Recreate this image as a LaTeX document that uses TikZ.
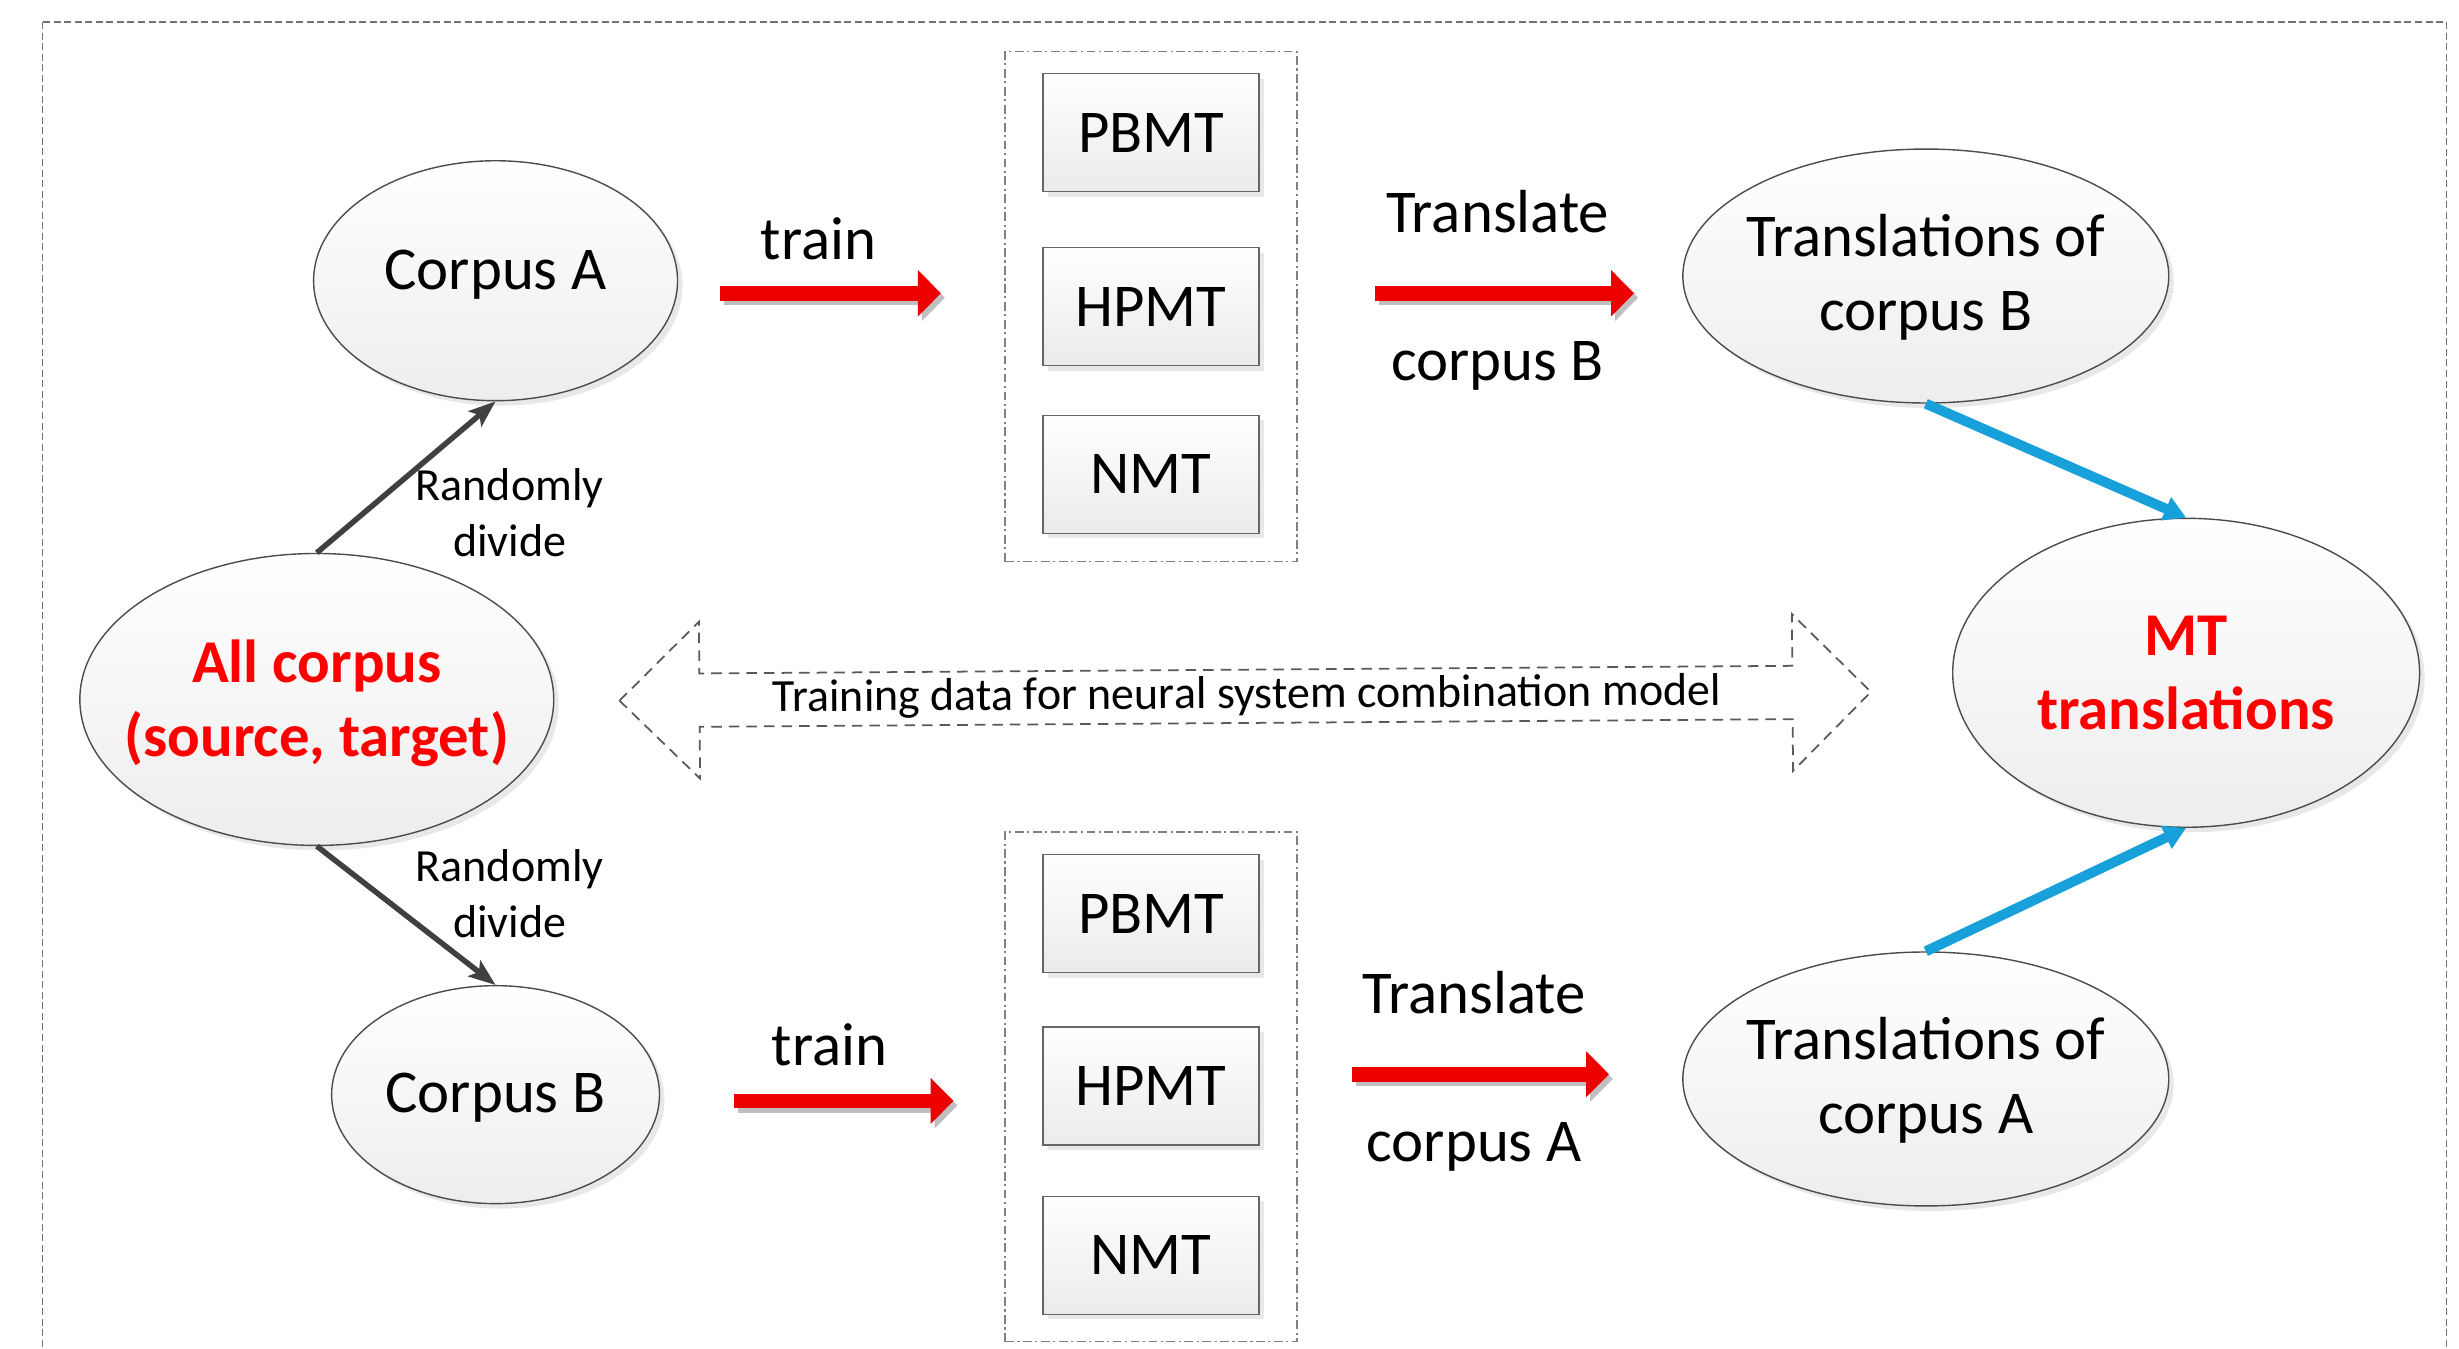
\documentclass[tikz,border=0pt]{standalone}
\usepackage{fontspec}
\setmainfont{Carlito}
\usetikzlibrary{shapes.geometric,shadows,arrows.meta}

\definecolor{arrowred}{RGB}{236,0,0}
\definecolor{arrowblue}{RGB}{24,160,218}
\definecolor{darkarrow}{RGB}{64,64,64}

\newcommand{\diagbig}{\fontsize{17.3}{21}\selectfont}
\newcommand{\diagsmall}{\fontsize{13.1}{15.8}\selectfont}

\tikzset{
    frame/.style={draw=black!55, line width=0.4pt, dash pattern=on 2pt off 1pt},
    corpus/.style={ellipse, draw=black!70, line width=0.4pt, inner sep=0pt,
        top color=white, bottom color=black!7,
        drop shadow={opacity=0.18, shadow xshift=0.05cm, shadow yshift=-0.05cm}},
    sysbox/.style={rectangle, draw=black!60, line width=0.5pt, inner sep=0pt,
        top color=white, bottom color=black!8,
        minimum width=2.16cm, minimum height=1.18cm, font=\diagbig,
        drop shadow={opacity=0.18, shadow xshift=0.05cm, shadow yshift=-0.05cm}},
    group/.style={rectangle, draw=black!50, line width=0.4pt,
        dash pattern=on 2.5pt off 1pt on 0.6pt off 1pt,
        minimum width=2.92cm, minimum height=5.1cm},
    bigtxt/.style={font=\diagbig, align=center, inner sep=0pt},
    redtxt/.style={font=\diagbig\bfseries, text=red, align=center, inner sep=0pt},
    smalltxt/.style={font=\diagsmall, align=center, inner sep=0pt},
    redarrow/.style={line width=0.145cm, arrowred, -{Triangle[length=0.23cm, width=0.45cm]}},
    redshadow/.style={line width=0.145cm, black!25, -{Triangle[length=0.23cm, width=0.45cm]}},
    divarrow/.style={line width=0.055cm, darkarrow, -{Stealth[length=0.27cm, width=0.2cm, inset=0.06cm]}},
    combarrow/.style={line width=0.1cm, arrowblue, -{Triangle[length=0.22cm, width=0.24cm]}},
    hollow/.style={draw=black!65, line width=0.5pt, dash pattern=on 3pt off 2pt}
}

\begin{document}
\begin{tikzpicture}[x=0.01568cm, y=-0.01568cm]
\useasboundingbox (0,0) rectangle (1568,860);

% outer frame
\draw[frame] (27,14) rectangle (1560,900);

% corpora
\node[corpus, minimum width=4.74cm, minimum height=2.92cm] (allc) at (202,446) {};
\node[redtxt] (allc-t) at (202,448.5) {All corpus\\(source, target)};
\node[corpus, minimum width=3.64cm, minimum height=2.40cm] (corpA) at (316,179) {};
\node[bigtxt] (corpA-t) at (316,175) {Corpus A};
\node[corpus, minimum width=3.28cm, minimum height=2.18cm] (corpB) at (316,698) {};
\node[bigtxt] (corpB-t) at (316,700) {Corpus B};

% translations
\node[corpus, minimum width=4.86cm, minimum height=2.54cm] (transB) at (1228,176) {};
\node[bigtxt] (transB-t) at (1228,177) {Translations of\\corpus B};
\node[corpus, minimum width=4.86cm, minimum height=2.54cm] (transA) at (1228,688) {};
\node[bigtxt] (transA-t) at (1228,689) {Translations of\\corpus A};
\node[corpus, minimum width=4.67cm, minimum height=3.09cm] (mt) at (1394,429) {};
\node[redtxt] (mt-t) at (mt) {MT\\translations};

% systems trained on corpus A
\node[group] (groupA) at (734,195.5) {};
\node[sysbox] (pbmtA) at (734,84.5) {PBMT};
\node[sysbox] (hpmtA) at (734,195.5) {HPMT};
\node[sysbox] (nmtA) at (734,302.5) {NMT};

% systems trained on corpus B
\node[group] (groupB) at (734,693) {};
\node[sysbox] (pbmtB) at (734,582.5) {PBMT};
\node[sysbox] (hpmtB) at (734,692.5) {HPMT};
\node[sysbox] (nmtB) at (734,800.5) {NMT};

% random split
\draw[divarrow] (allc.north) -- (corpA.south);
\draw[divarrow] (allc.south) -- (corpB.north);
\node[smalltxt] (divA) at (325,327) {Randomly\\divide};
\node[smalltxt] (divB) at (325,570) {Randomly\\divide};

% train / translate
\coordinate (trainA-s) at (459,187);
\coordinate (trainA-e) at (600,187);
\coordinate (transA-s) at (877,187);
\coordinate (transA-e) at (1042,187);
\coordinate (trainB-s) at (468,702);
\coordinate (trainB-e) at (608,702);
\coordinate (transB-s) at (862,685);
\coordinate (transB-e) at (1026,685);
\foreach \s/\e in {trainA-s/trainA-e, transA-s/transA-e, trainB-s/trainB-e, transB-s/transB-e} {
    \draw[redshadow] ([shift={(0.04cm,-0.045cm)}]\s) -- ([shift={(0.04cm,-0.045cm)}]\e);
    \draw[redarrow] (\s) -- (\e);
}
\node[bigtxt] (trainA-l) at (522,152) {train};
\node[bigtxt] (translA-l) at (955,135) {Translate};
\node[bigtxt] (corpusB-l) at (955,233) {corpus B};
\node[bigtxt] (trainB-l) at (529,666) {train};
\node[bigtxt] (translB-l) at (940,633) {Translate};
\node[bigtxt] (corpusA-l) at (940,731) {corpus A};

% combination
\draw[combarrow] (transB.south) -- (mt.north);
\draw[combarrow] (transA.north) -- (mt.south);

% training data arrow
\draw[hollow, rotate around={0.4:(794,444)}] (395,444) -- (446,394) -- (446,427) -- (1143,427)
    -- (1143,394) -- (1193,444) -- (1143,494) -- (1143,461) -- (446,461) -- (446,494) -- cycle;
\node[smalltxt, rotate=0.4] (trdata) at (795,444) {Training data for neural system combination model};
\end{tikzpicture}
\end{document}
